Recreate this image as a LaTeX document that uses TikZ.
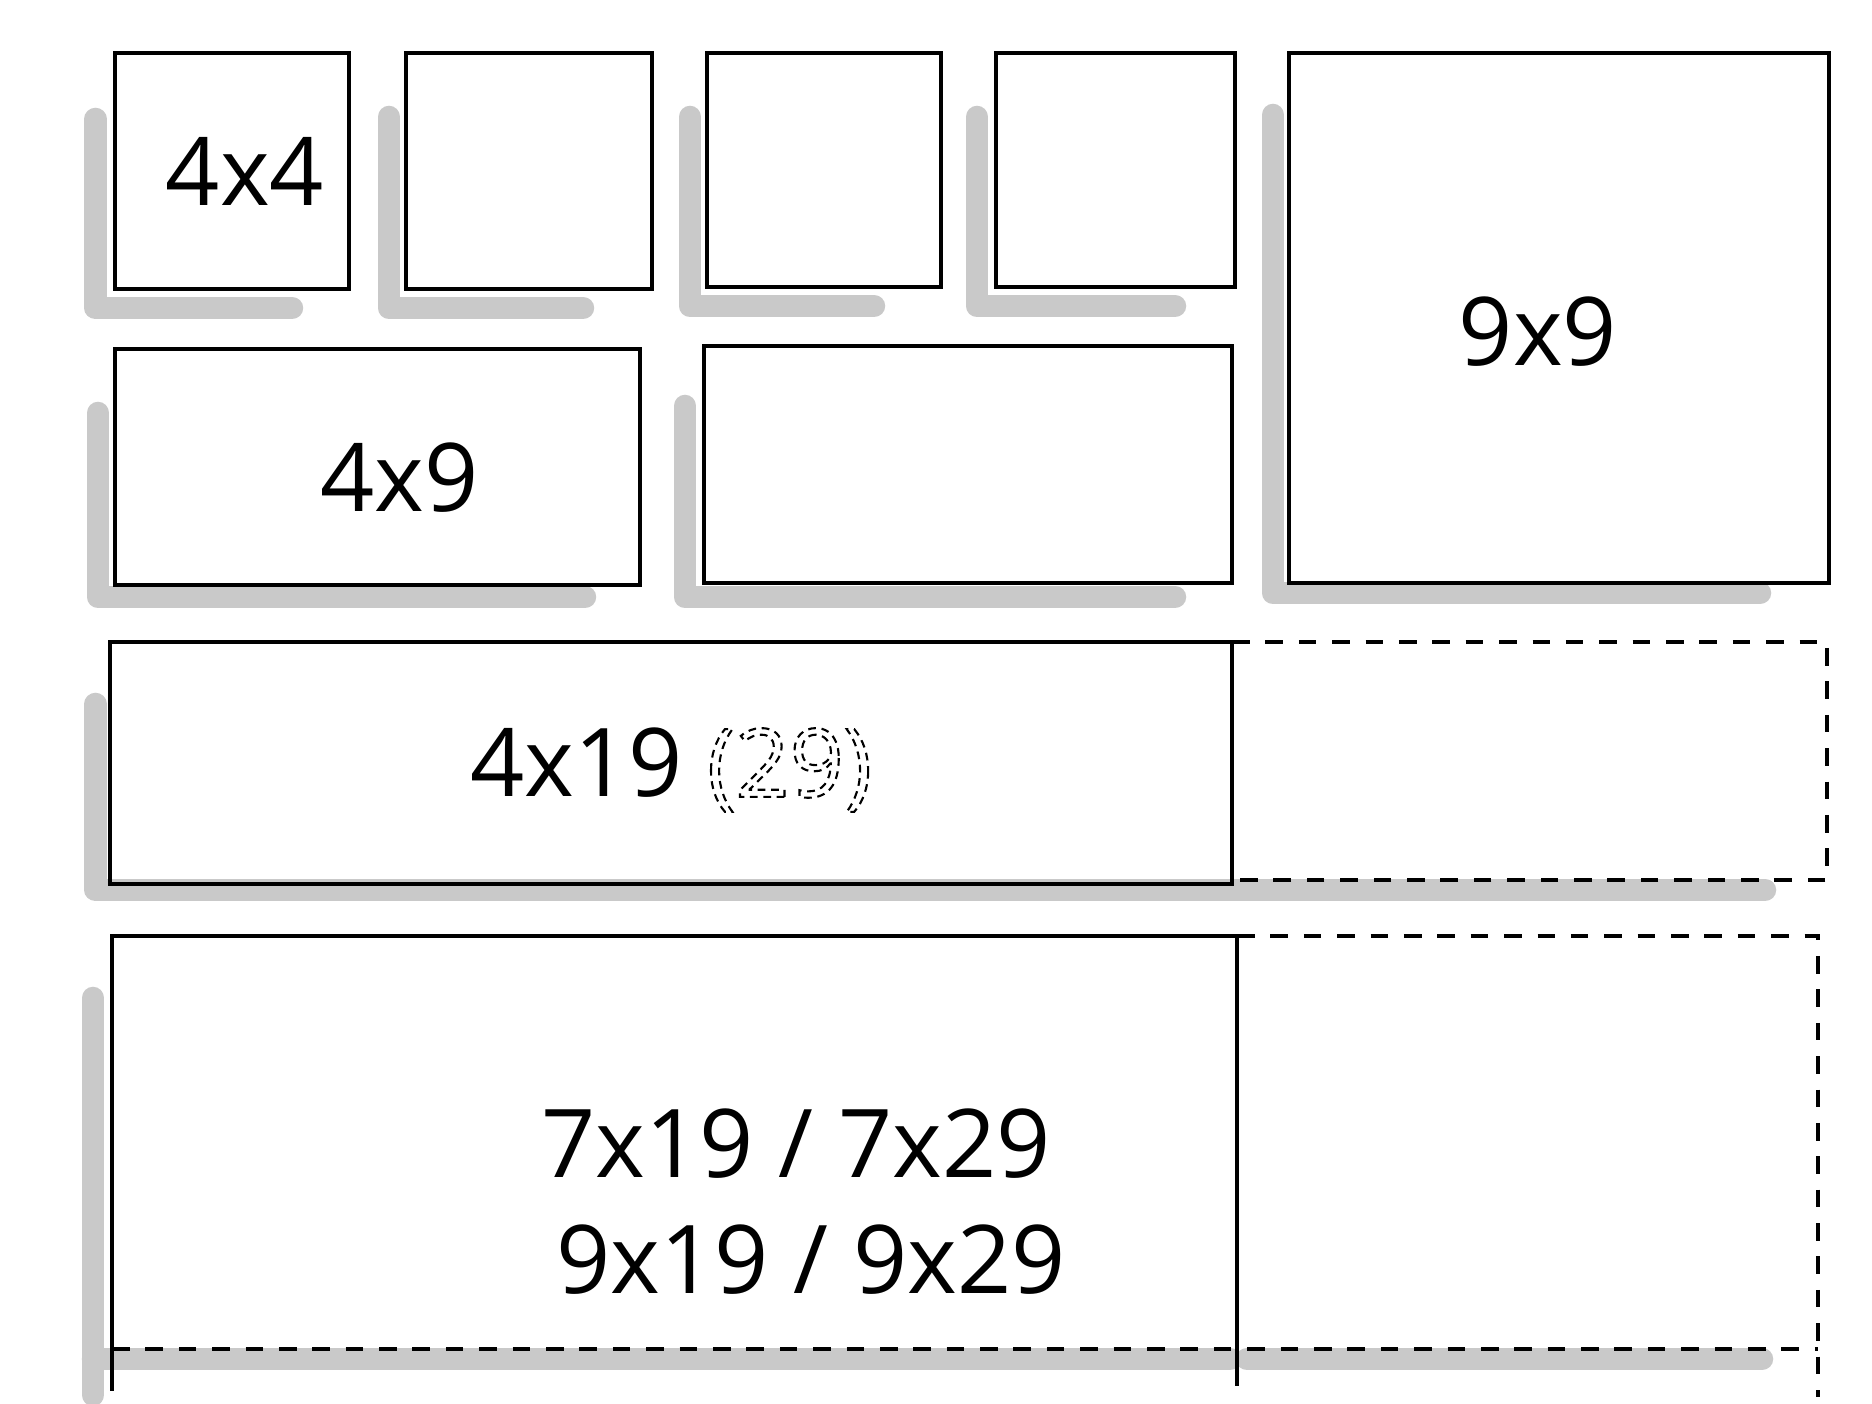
\documentclass[tikz,border=0pt]{standalone}
\usepackage{fontspec}
\setmainfont{Open Sans}
\begin{document}
\begin{tikzpicture}[y=-1cm,
    box/.style={line width=1.2pt},
    openedge/.style={line width=1.2pt, dash pattern=on 5pt off 4.5pt},
    backline/.style={line width=6.4pt, color=black!21, line cap=round, line join=round},
    sizelabel/.style={font=\fontsize{27}{33}\selectfont}]
      \useasboundingbox (0, 0) rectangle (18.72, 14.04);
      % grey strokes behind the boxes
      \draw[backline] (0.955, 1.19) |- (2.92, 3.08)
                      (3.89, 1.17) |- (5.83, 3.08)
                      (6.90, 1.17) |- (8.74, 3.06)
                      (9.77, 1.17) |- (11.75, 3.06)
                      (12.73, 1.15) |- (17.60, 5.93)
                      (0.98, 4.13) |- (5.85, 5.97)
                      (6.85, 4.06) |- (11.75, 5.97)
                      (0.955, 7.04) |- (17.65, 8.90)
                      (0.93, 9.98) -- (0.93, 13.95)
                      (0.93, 13.59) -- (12.30, 13.59)
                      (12.47, 13.59) -- (17.62, 13.59);
      % small boxes
      \draw[box] (1.15, 0.53) rectangle (3.49, 2.89) node (fourfour) [pos=.5, sizelabel, xshift=0.13cm] {4x4}
                 (4.06, 0.53) rectangle (6.52, 2.89) node (topb) [pos=.5] {}
                 (7.07, 0.53) rectangle (9.41, 2.87) node (topc) [pos=.5] {}
                 (9.96, 0.53) rectangle (12.35, 2.87) node (topd) [pos=.5] {};
      \draw[box] (12.89, 0.53) rectangle (18.29, 5.83) node (ninenine) [pos=.5, sizelabel, xshift=-0.21cm, yshift=-0.14cm] {9x9}
                 (1.15, 3.49) rectangle (6.40, 5.85) node (fournine) [pos=.5, sizelabel, xshift=0.22cm, yshift=-0.11cm] {4x9}
                 (7.04, 3.46) rectangle (12.32, 5.83) node (midb) [pos=.5] {};
      % long strip, optional part dashed
      \draw[box] (1.10, 6.42) rectangle (12.32, 8.84) node (strip) [pos=.5, sizelabel, yshift=-0.07cm]
            {4x19 {\special{pdf:literal direct 1 Tr 0.6 w [2.2 1.6] 0 d}(29)\special{pdf:literal direct 0 Tr [] 0 d}}};
      \draw[openedge] (12.32, 6.42) -| (18.27, 8.80) -- (12.32, 8.80);
      % big block, open at the bottom
      \draw[box] (1.12, 13.91) -- (1.12, 9.36) -- (12.37, 9.36) -- (12.37, 13.86);
      \draw[openedge] (1.12, 13.49) -- (18.18, 13.49)
                      (12.37, 9.36) -- (18.18, 9.36) -- (18.18, 13.97);
      \node (block) [sizelabel, align=center] at (7.96, 12.02) {7x19 / 7x29\\\hspace{0.3cm}9x19 / 9x29};
\end{tikzpicture}
\end{document}
